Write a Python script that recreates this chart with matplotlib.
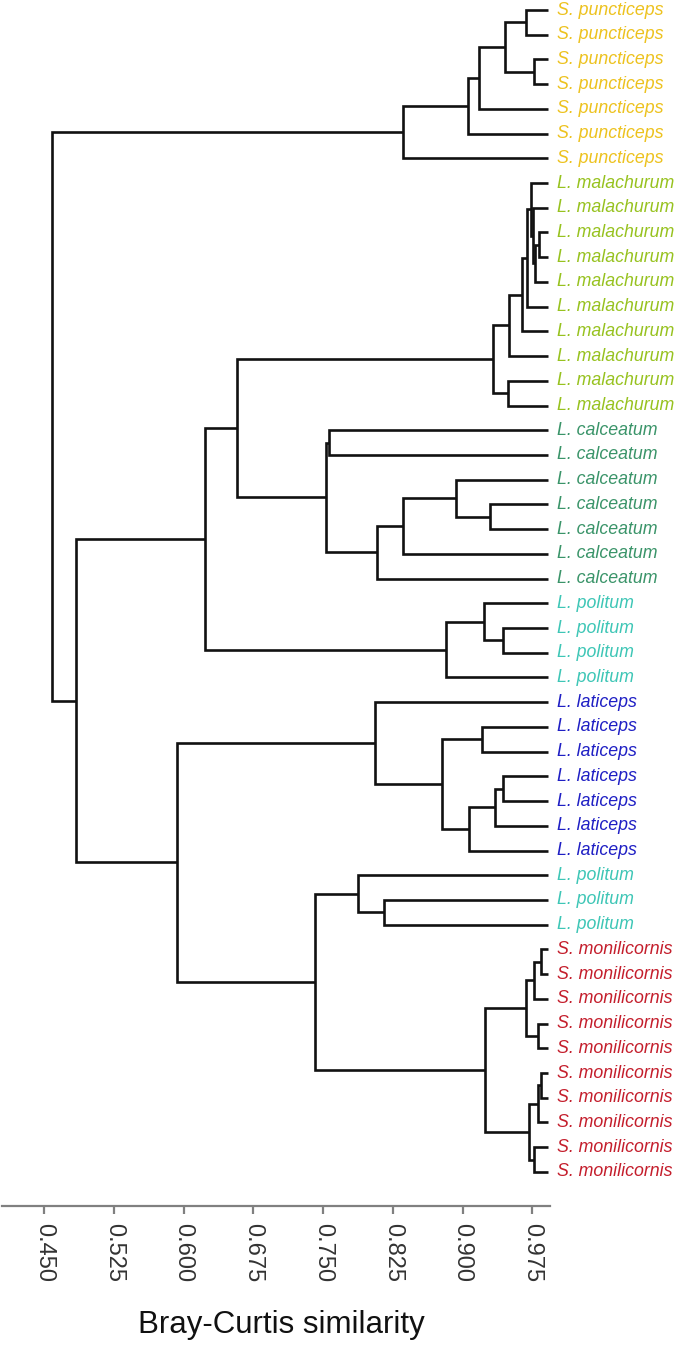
"""
Bray-Curtis similarity dendrogram of bee specimens (UPGMA-style tree).
Output: out.png
"""

import matplotlib
matplotlib.use("Agg")
import matplotlib.pyplot as plt

plt.rcParams["font.family"] = ["Liberation Sans", "DejaVu Sans"]

# ── Data ──────────────────────────────────────────────────────────────────────
SPECIES = ["S. puncticeps", "L. malachurum", "L. calceatum", "L. politum",
           "L. laticeps", "L. politum", "S. monilicornis"]
COUNTS = [7, 10, 7, 4, 7, 3, 10]
COLORS = ["#EDC21E", "#97C21F", "#3A9469", "#3EC6B6",
          "#1F1FC4", "#3EC6B6", "#C41E2C"]

LEAF_SIM = 0.992          # tips of the tree
TICKS = [0.450, 0.525, 0.600, 0.675, 0.750, 0.825, 0.900, 0.975]

# subtrees: (similarity, left, right); ints are leaf indices, top to bottom
puncticeps = (0.836, (0.906, (0.918, (0.946, (0.9686, 0, 1), (0.977, 2, 3)), 4), 5), 6)

malachurum = (0.9327,
              (0.9495, (0.9639, (0.9693, (0.9736, 7,
                                          (0.9757, 8, (0.978, (0.982, 9, 10), 11))),
                                 12), 13), 14),
              (0.9485, 15, 16))

calceatum = (0.7534, (0.756, 17, 18),
             (0.808, (0.8359, (0.8932, 19, (0.929, 20, 21)), 22), 23))

politum_a = (0.8822, (0.9226, 24, (0.9435, 25, 26)), 27)

laticeps = (0.806, 28,
            (0.878, (0.921, 29, 30),
             (0.9065, (0.9352, (0.943, 31, 32), 33), 34)))

politum_b = (0.788, 35, (0.816, 36, 37))

monilicornis = (0.9245,
                (0.9686, (0.9764, (0.9844, 38, 39), 40), (0.9807, 41, 42)),
                (0.971, (0.9807, (0.984, 43, 44), 45), (0.9764, 46, 47)))

upper = (0.623, (0.6576, malachurum, calceatum), politum_a)
lower = (0.5931, laticeps, (0.7416, politum_b, monilicornis))
TREE = (0.4586, puncticeps, (0.4844, upper, lower))

labels = [s for s, n in zip(SPECIES, COUNTS) for _ in range(n)]
colors = [c for c, n in zip(COLORS, COUNTS) for _ in range(n)]


# ── Plot ──────────────────────────────────────────────────────────────────────
def draw(ax, node):
    """Draw a node, return (y, similarity) of its attachment point."""
    if isinstance(node, int):
        return node, LEAF_SIM
    sim, left, right = node
    yl, sl = draw(ax, left)
    yr, sr = draw(ax, right)
    ax.plot([sl, sim, sim, sr], [yl, yl, yr, yr], color="#111111", lw=1.9,
            solid_joinstyle="miter", solid_capstyle="butt")
    return (yl + yr) / 2, sim


fig = plt.figure(figsize=(6.85, 13.52), dpi=100)
ax = fig.add_axes([2 / 685, 146 / 1352, 548 / 685, 1206 / 1352])

draw(ax, TREE)

for i, (lab, col) in enumerate(zip(labels, colors)):
    ax.annotate(lab, (LEAF_SIM, i), xytext=(6.5, 0), textcoords="offset points",
                va="center", ha="left", fontsize=12.8, style="italic",
                color=col, annotation_clip=False)

ax.set_xlim(0.4048, LEAF_SIM + 0.002)
ax.set_ylim(48.38, -0.405)
ax.set_xticks(TICKS)
ax.set_xticklabels([f"{t:.3f}" for t in TICKS], rotation=270, fontsize=17,
                   color="#333333")
ax.set_yticks([])
ax.spines[["top", "right", "left"]].set_visible(False)
ax.spines["bottom"].set_color("#808080")
ax.spines["bottom"].set_linewidth(1.6)
ax.tick_params(axis="x", direction="out", length=6, width=1.6,
               color="#808080", pad=6)

ax.set_xlabel("Bray-Curtis similarity", fontsize=22.5, color="#111111")
ax.xaxis.set_label_coords(0.509, -0.0987)
ax.xaxis.label.set_verticalalignment("center")

fig.savefig("out.png", dpi=100)
plt.close(fig)
print("Saved: out.png")
